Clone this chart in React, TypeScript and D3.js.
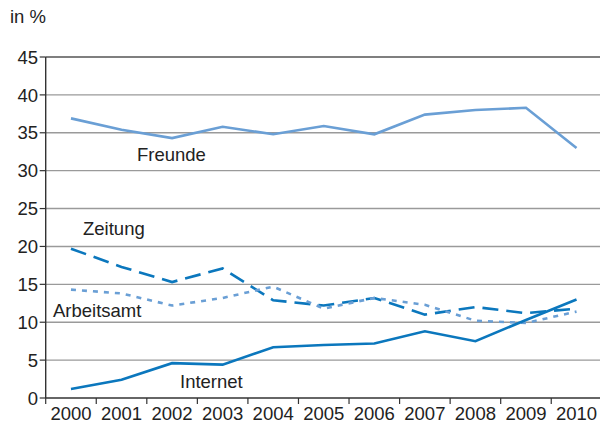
import React from "react";
import * as d3 from "d3";

const years = ["2000","2001","2002","2003","2004","2005","2006","2007","2008","2009","2010"];
const freunde = [36.9, 35.4, 34.3, 35.8, 34.8, 35.9, 34.8, 37.4, 38.0, 38.3, 33.0];
const zeitung = [19.7, 17.3, 15.3, 17.1, 12.9, 12.2, 13.2, 11.0, 12.0, 11.2, 11.8];
const arbeitsamt = [14.3, 13.8, 12.2, 13.2, 14.7, 11.8, 13.2, 12.3, 10.2, 9.9, 11.4];
const internet = [1.2, 2.4, 4.6, 4.4, 6.7, 7.0, 7.2, 8.8, 7.5, 10.3, 13.0];
const yTicks = [0, 5, 10, 15, 20, 25, 30, 35, 40, 45];

const W = 600, H = 423;
const left = 45.7, right = 601.8, top = 57, bottom = 398;
const font = "'Liberation Sans', Arial, Helvetica, sans-serif";
const fs = 18.5;

const series = [
  { name: "Freunde", values: freunde, color: "#6a9fd5", dash: null, lx: 137, ly: 161 },
  { name: "Zeitung", values: zeitung, color: "#0b77bd", dash: "16,8", lx: 83, ly: 235 },
  { name: "Arbeitsamt", values: arbeitsamt, color: "#6a9fd5", dash: "5,6", lx: 53, ly: 317 },
  { name: "Internet", values: internet, color: "#0b77bd", dash: null, lx: 180, ly: 388 },
];

export default function App() {
  const x = d3.scaleBand<string>().domain(years).range([left, right]).padding(0);
  const y = d3.scaleLinear().domain([0, 45]).range([bottom, top]);
  const line = d3
    .line<number>()
    .x((_, i) => (x(years[i]) as number) + x.bandwidth() / 2)
    .y((d) => y(d));
  const boundaries = years.map((yr) => x(yr) as number).concat([right]);

  return (
    <svg width={W} height={H} style={{ position: "absolute", left: 0, top: 0, background: "#fff" }} fontFamily={font}>
      <text x={10} y={23} fontSize={fs} fill="#222">in %</text>
      {yTicks.filter((t) => t > 0).map((t) => (
        <line key={"g" + t} x1={left} x2={W} y1={y(t)} y2={y(t)} stroke={t === 45 ? "#555" : "#9a9a9a"} strokeWidth={1.4} />
      ))}
      {yTicks.map((t) => (
        <g key={"yt" + t}>
          <line x1={left - 6} x2={left} y1={y(t)} y2={y(t)} stroke="#333" strokeWidth={1.2} />
          <text x={38} y={y(t)} dy="0.36em" textAnchor="end" fontSize={fs} fill="#222">{t}</text>
        </g>
      ))}
      <line x1={left} x2={left} y1={top} y2={bottom} stroke="#333" strokeWidth={1.4} />
      <line x1={left} x2={W} y1={bottom} y2={bottom} stroke="#333" strokeWidth={1.4} />
      {boundaries.map((bx, i) => (
        <line key={"xt" + i} x1={bx} x2={bx} y1={bottom} y2={bottom + 6} stroke="#333" strokeWidth={1.2} />
      ))}
      {years.map((yr) => (
        <text key={yr} x={(x(yr) as number) + x.bandwidth() / 2} y={420} textAnchor="middle" fontSize={fs} fill="#222">{yr}</text>
      ))}
      {series.map((s) => (
        <path key={s.name} d={line(s.values) || ""} fill="none" stroke={s.color} strokeWidth={2.6}
          strokeDasharray={s.dash || undefined} strokeLinejoin="miter" />
      ))}
      {series.map((s) => (
        <text key={"l" + s.name} x={s.lx} y={s.ly} fontSize={fs} fill="#222">{s.name}</text>
      ))}
    </svg>
  );
}
